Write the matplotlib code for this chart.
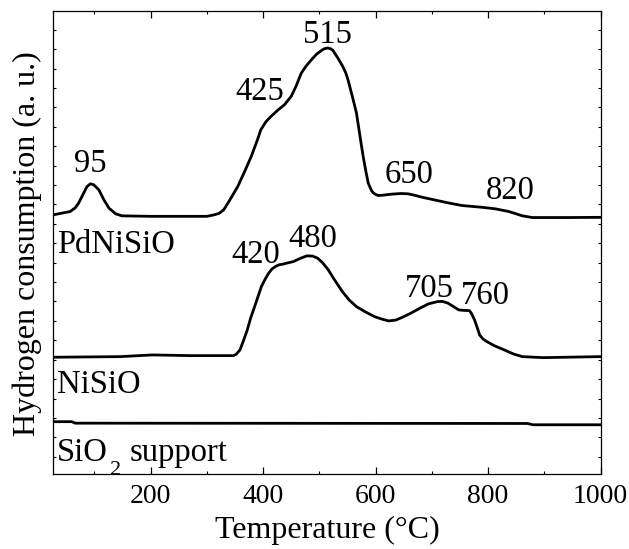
import numpy as np
import matplotlib
matplotlib.use("Agg")
import matplotlib.pyplot as plt
from matplotlib.ticker import MultipleLocator

plt.rcParams['font.family'] = ['Liberation Serif', 'DejaVu Serif']

# H2-TPR traces (temperature in degC, signal in a.u., curves already offset)
t_pdni = [27, 45, 57, 66, 72, 81, 87, 93, 99, 108, 117, 126, 138, 149,
          200, 250, 300, 313, 322, 330, 340, 355, 367, 379, 390, 396, 405, 414,
          426, 438, 450, 459, 468, 477, 486, 495, 504, 509, 515, 520, 524, 533,
          542, 547, 551, 558, 562, 566, 572, 575, 578, 583, 587, 593, 596, 599,
          602, 605, 611, 629, 645, 658, 670, 682, 700, 718, 736, 754, 790, 813,
          837, 850, 861, 879, 940, 1000]
y_pdni = [259, 261, 262.3, 266, 270.7, 280.7, 287.3, 290, 289, 284, 274, 265.7,
          260, 258, 257.5, 257.5, 257.5, 259, 260.5, 264, 273, 287.3, 302,
          317.3, 334, 344, 352, 357.3, 363.5, 369, 377.3, 388, 400.7, 408, 414,
          419.5, 423.3, 425, 425.7, 425, 423.5, 415.7, 407, 401, 394, 379, 370,
          361, 339, 328, 317.3, 302, 290.7, 283, 281, 279.7, 279, 278.3, 278.5,
          279.7, 280.3, 280, 278.5, 276.7, 274.5, 272.3, 270.2, 268.3, 266.5,
          265, 262.3, 260, 258, 256.3, 256.3, 256.5]

t_ni = [28, 146, 203, 271, 347, 352, 359, 365, 372, 378, 385, 397, 404, 410,
        416, 422, 428, 435, 444, 454, 466, 478, 488, 497, 506, 516, 526, 541,
        553, 566, 582, 598, 610, 623, 636, 648, 662, 679, 694, 710, 719, 729,
        738, 748, 757, 767, 771, 776, 781, 785, 791, 798, 812, 829, 845, 861,
        898, 1000]
y_ni = [116.7, 117.3, 119, 118.3, 118.3, 119.5, 124, 133, 144, 156, 167.3,
        187.3, 195, 200.7, 205, 207.3, 209, 209.7, 211, 212.3, 215.5, 218,
        217.8, 215.7, 211, 204, 195, 182.3, 174, 167.3, 162, 157.3, 155, 153,
        153.8, 156.7, 160.5, 165.7, 170, 172.3, 172.5, 170.7, 167.5, 164, 163.5,
        163.3, 160, 154, 146, 139, 135, 132.3, 128, 124, 120, 117.3, 116.3,
        117.3]

t_si = [27, 60, 66, 870, 880, 1000]
y_si = [52.3, 52.3, 50.8, 50.5, 49.2, 49.2]

# peak labels: text, temperature, height of text baseline
peak_text = ['95', '425', '515', '650', '820', '420', '480', '705', '760']
peak_t = [93, 395, 514, 659, 840, 387, 488, 695, 795]
peak_y = [302, 374, 431, 291, 275, 211, 227, 177, 170]

sample_names = ['PdNiSiO', 'NiSiO']
sample_y = [221, 81]
support_y = 12.5

fig = plt.figure(figsize=(6.29, 5.49), dpi=100)
ax = fig.add_axes([0.0847, 0.1366, 0.870, 0.8439])

for t, y in [(t_pdni, y_pdni), (t_ni, y_ni), (t_si, y_si)]:
    ax.plot(t, y, color='black', lw=2.0, solid_joinstyle='round')

for txt, t, y in zip(peak_text, peak_t, peak_y):
    ax.text(t, y, txt, fontsize=23.5, ha='center', va='baseline')

for name, y in zip(sample_names, sample_y):
    ax.text(34, y, name, fontsize=23.5, ha='left', va='baseline')

# SiO2 label built from pieces so the subscript sits low
t_sio = ax.text(34, support_y, 'SiO', fontsize=23.5, ha='left', va='baseline')
t_sub = ax.annotate('2', xy=(1, 0), xycoords=t_sio, xytext=(1.5, -4.5),
                    textcoords='offset points', fontsize=16,
                    ha='left', va='baseline')
ax.annotate('support', xy=(1, support_y), xycoords=(t_sub, 'data'),
            xytext=(6, 0), textcoords='offset points', fontsize=23.5,
            ha='left', va='baseline')

ax.set_xlim(27, 1000)
ax.set_ylim(0, 463)
ax.xaxis.set_major_locator(MultipleLocator(200))
ax.xaxis.set_minor_locator(MultipleLocator(100))
ax.set_yticks(np.arange(17.2, 463, 19.4))
ax.tick_params(axis='x', which='major', direction='in', length=5, width=0.9,
               labelsize=20, pad=7, top=True)
ax.tick_params(axis='x', which='minor', direction='in', length=2.5, width=0.8,
               top=True)
ax.tick_params(axis='y', which='major', direction='in', length=2.5, width=0.8,
               left=True, right=True, labelleft=False)
for s in ax.spines.values():
    s.set_linewidth(0.9)

ax.set_xlabel('Temperature (°C)', fontsize=23)
ax.set_ylabel('Hydrogen consumption (a. u.)', fontsize=23)
ax.xaxis.set_label_coords(0.5, -0.09)
ax.yaxis.set_label_coords(-0.021, 0.497)

fig.savefig('out.png', dpi=100)
